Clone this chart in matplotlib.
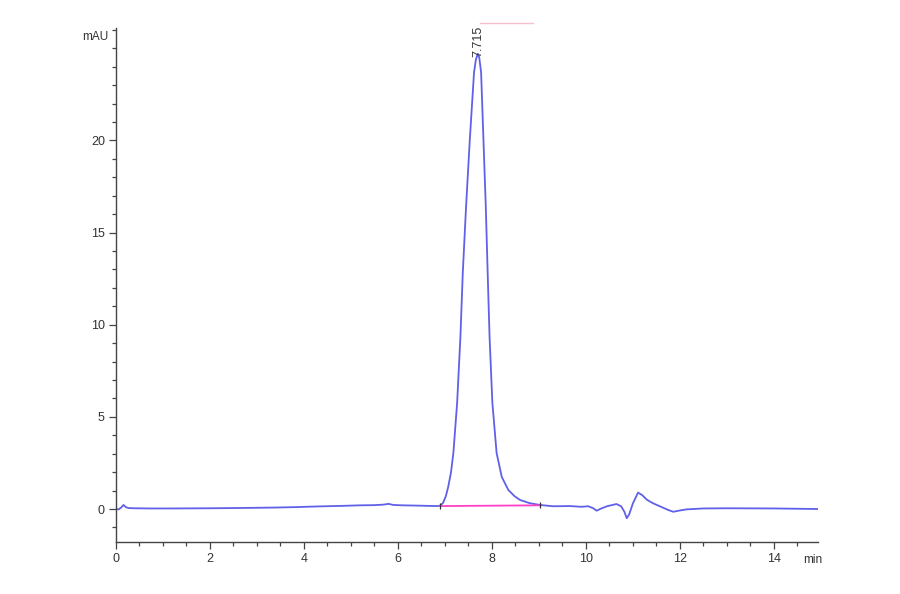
import matplotlib
matplotlib.use("Agg")
import matplotlib.pyplot as plt
from matplotlib.ticker import MultipleLocator

# Chromatogram trace (time in min, signal in mAU)
time_min = [0.00, 0.06, 0.11, 0.16, 0.21, 0.27, 0.40, 0.70, 1.20, 2.00, 2.80,
            3.40, 3.77, 4.30, 4.80, 5.19, 5.50, 5.70, 5.80, 5.90, 6.10, 6.50,
            6.80, 6.89, 6.96, 7.02, 7.07, 7.13, 7.18, 7.26, 7.33, 7.38, 7.45,
            7.53, 7.62, 7.66, 7.70, 7.73, 7.77, 7.82, 7.87, 7.91, 7.95, 8.01,
            8.10, 8.21, 8.35, 8.48, 8.60, 8.80, 9.02, 9.30, 9.66, 9.90, 10.05,
            10.15, 10.23, 10.32, 10.45, 10.65, 10.75, 10.82, 10.87, 10.92,
            11.00, 11.11, 11.20, 11.30, 11.43, 11.60, 11.75, 11.86, 12.00,
            12.14, 12.50, 13.00, 14.00, 14.94]
signal_mau = [0.00, -0.02, 0.08, 0.22, 0.10, 0.05, 0.04, 0.03, 0.03, 0.04, 0.06,
              0.08, 0.10, 0.14, 0.17, 0.20, 0.21, 0.24, 0.28, 0.22, 0.20, 0.18,
              0.16, 0.17, 0.33, 0.70, 1.20, 2.00, 3.04, 5.76, 9.35, 12.80, 16.40,
              20.05, 23.70, 24.40, 24.70, 24.50, 23.70, 20.05, 16.40, 12.80, 9.35,
              5.76, 3.04, 1.74, 1.03, 0.70, 0.49, 0.32, 0.22, 0.15, 0.16, 0.12,
              0.15, 0.05, -0.09, 0.02, 0.15, 0.27, 0.15, -0.15, -0.50, -0.30,
              0.30, 0.89, 0.75, 0.50, 0.31, 0.12, -0.05, -0.15, -0.08,
              -0.02, 0.03, 0.04, 0.03, 0.00]

peak_rt = 7.715
peak_label = "7.715"
baseline_t = [6.89, 9.02]
baseline_y = [0.16, 0.20]
top_mark_t = [7.74, 8.87]
top_mark_y = [26.36, 26.36]

x_label = "min"
y_label = "mAU"
x_major = [0, 2, 4, 6, 8, 10, 12, 14]
y_major = [0, 5, 10, 15, 20]

fig = plt.figure(figsize=(9, 5.94), dpi=100)
ax = fig.add_axes([116/900, (594-542)/594, (818-116)/900, (542-28)/594])

ax.plot(time_min, signal_mau, color="#6060e8", lw=1.3, solid_joinstyle="round")
ax.plot(baseline_t, baseline_y, color="#ff40c8", lw=1.3)
ax.plot(baseline_t, baseline_y, ls="none", marker="|", ms=5, mew=0.9, color="#333333")
ax.plot(top_mark_t, top_mark_y, color="#f7c0cc", lw=1.0, clip_on=False)

ax.text(peak_rt, 24.55, peak_label, rotation=90, ha="center", va="bottom",
        fontsize=9, color="#333333", family="Liberation Sans")

ax.set_xlim(0, 14.94)
ax.set_ylim(-1.79, 26.1)
ax.set_xticks(x_major)
ax.set_yticks(y_major)
ax.xaxis.set_minor_locator(MultipleLocator(0.5))
ax.yaxis.set_minor_locator(MultipleLocator(1))

for s in ["top", "right"]:
    ax.spines[s].set_visible(False)
for s in ["left", "bottom"]:
    ax.spines[s].set_color("#444444")
    ax.spines[s].set_linewidth(1.0)

ax.tick_params(axis="both", which="major", direction="out", length=5, width=0.9,
               colors="#444444", labelsize=9, labelcolor="#333333", pad=3)
ax.tick_params(axis="both", which="minor", direction="out", length=3, width=0.9,
               colors="#444444")
for lab in ax.get_xticklabels() + ax.get_yticklabels():
    lab.set_family("Liberation Sans")

ax.text(-0.011, 0.982, y_label, transform=ax.transAxes, ha="right", va="center",
        fontsize=8.5, color="#333333", family="Liberation Sans")
ax.text(0.979, -0.035, x_label, transform=ax.transAxes, ha="left", va="center",
        fontsize=8.5, color="#333333", family="Liberation Sans")

fig.savefig("out.png", dpi=100)
